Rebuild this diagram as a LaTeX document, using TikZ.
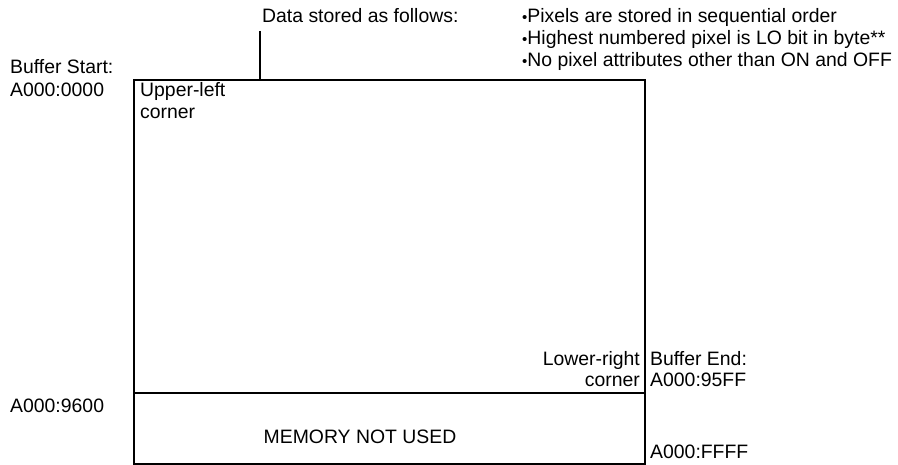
\documentclass[tikz,border=0pt]{standalone}
\usepackage{fontspec}
\setmainfont{Liberation Sans}
\newcommand\smallbul{\raisebox{0.8pt}{\fontsize{15}{15}\selectfont•}}
\begin{document}
\begin{tikzpicture}[x=1pt,y=-1pt,
  lbl/.style={inner sep=0pt,anchor=base west,font=\fontsize{19.4}{22}\selectfont},
  rlbl/.style={lbl,anchor=base east},
  clbl/.style={lbl,anchor=base},
  frame/.style={draw,line width=1.6pt}]
\useasboundingbox (0,0) rectangle (898,465);
% memory buffer outline
\node[frame,minimum width=511pt,minimum height=384pt,inner sep=0pt,anchor=north west] (buf) at (133,79) {};
\coordinate (divL) at (133,393);
\coordinate (divR) at (644,393);
\draw[frame] (divL) -- (divR);
% callout
\node[lbl] (data) at (262,23) {Data stored as follows:};
\coordinate (lead) at (260,31);
\draw[frame] (lead) -- (lead |- buf.north);
\node[lbl] (b1) at (522,23) {\smallbul Pixels are stored in sequential order};
\node[lbl] (b2) at (522,45) {\smallbul Highest numbered pixel is LO bit in byte**};
\node[lbl] (b3) at (522,67) {\smallbul No pixel attributes other than ON and OFF};
% addresses
\node[lbl] (bs) at (10,74) {Buffer Start:};
\node[lbl] (a0) at (10,97) {A000:0000};
\node[lbl] (ul1) at (140,97) {Upper-left};
\node[lbl] (ul2) at (140,119) {corner};
\node[rlbl] (lr1) at (640,366) {Lower-right};
\node[rlbl] (lr2) at (640,387) {corner};
\node[lbl] (be) at (650,366) {Buffer End:};
\node[lbl] (a95) at (650,387) {A000:95FF};
\node[lbl] (a96) at (10,413) {A000:9600};
\node[clbl] (unused) at (360,443) {MEMORY NOT USED};
\node[lbl] (aff) at (650,458) {A000:FFFF};
\end{tikzpicture}
\end{document}
